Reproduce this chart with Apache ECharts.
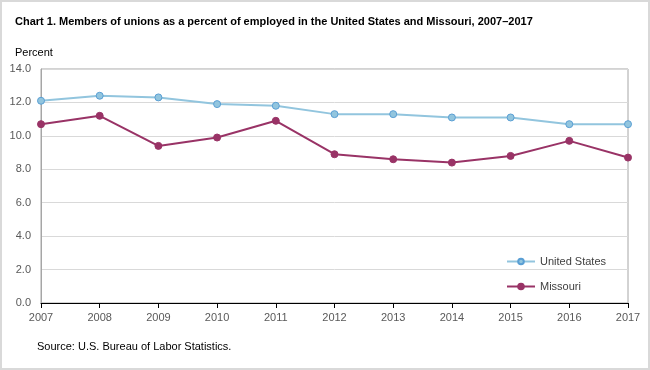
<!DOCTYPE html>
<html><head><meta charset="utf-8">
<script src="https://cdn.jsdelivr.net/npm/echarts@6/dist/echarts.min.js"></script>
<style>html,body{margin:0;padding:0;background:#fff}#c{width:650px;height:370px}</style>
</head><body><div id="c"></div>
<script>
const years = ['2007','2008','2009','2010','2011','2012','2013','2014','2015','2016','2017'];
const unitedStates = [12.1,12.4,12.3,11.9,11.8,11.3,11.3,11.1,11.1,10.7,10.7];
const missouri = [10.7,11.2,9.4,9.9,10.9,8.9,8.6,8.4,8.8,9.7,8.7];
const chart = echarts.init(document.getElementById('c'));
const font = '"Liberation Sans", Arial, sans-serif';
chart.setOption({
  animation:false,
  textStyle:{fontFamily:font},
  title:[
    {text:'Chart 1. Members of unions as a percent of employed in the United States and Missouri, 2007–2017',left:10,top:11,
     textStyle:{fontSize:11,fontWeight:'bold',color:'#000',fontFamily:font}},
    {text:'Percent',left:10,top:42,textStyle:{fontSize:11,fontWeight:'normal',color:'#000',fontFamily:font}},
    {text:'Source: U.S. Bureau of Labor Statistics.',left:32,top:336,textStyle:{fontSize:11,fontWeight:'normal',color:'#000',fontFamily:font}}
  ],
  graphic:[{type:'rect',shape:{x:1,y:1,width:648,height:368},style:{fill:'none',stroke:'#d9d9d9',lineWidth:2},silent:true}],
  grid:{left:41,right:22,top:69,bottom:67,show:true,borderColor:'#a6a6a6',borderWidth:1},
  legend:{orient:'vertical',left:501,top:251,itemGap:14,itemWidth:28,itemHeight:7,
    textStyle:{fontSize:11,color:'#404040',fontFamily:font},
    data:['United States','Missouri']},
  xAxis:{type:'category',data:years,boundaryGap:false,
    axisLine:{lineStyle:{color:'#000',width:1}},
    axisTick:{show:true,alignWithLabel:true,length:5,lineStyle:{color:'#000'}},
    axisLabel:{fontSize:11,color:'#595959',margin:9,fontFamily:font}},
  yAxis:{type:'value',min:0,max:14,interval:2,
    axisLine:{show:true,lineStyle:{color:'#a6a6a6'}},
    axisTick:{show:false},
    splitLine:{lineStyle:{color:'#d9d9d9'}},
    axisLabel:{fontSize:11,color:'#595959',margin:10,formatter:v=>v.toFixed(1),fontFamily:font}},
  series:[
    {name:'United States',type:'line',data:unitedStates,symbol:'circle',symbolSize:7,
     lineStyle:{color:'#92c5de',width:2},itemStyle:{color:'#92c5de',borderColor:'#5a9fd4',borderWidth:1}},
    {name:'Missouri',type:'line',data:missouri,symbol:'circle',symbolSize:7,
     lineStyle:{color:'#993366',width:2},itemStyle:{color:'#993366',borderColor:'#993366',borderWidth:1}}
  ]
});
</script></body></html>
